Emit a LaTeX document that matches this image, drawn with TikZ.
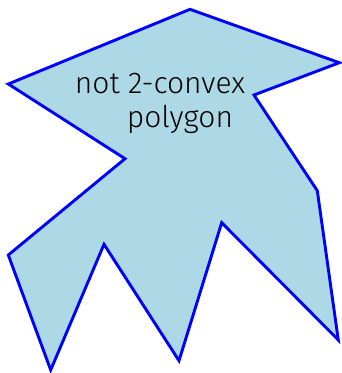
\documentclass[tikz,border=0pt]{standalone}
\usepackage{fontspec}
\setmainfont{Fira Sans Light}
\definecolor{polyfill}{RGB}{173,216,230}
\begin{document}
\begin{tikzpicture}[x=1pt,y=-1pt,
  poly/.style={draw=blue,fill=polyfill,line width=2.9pt,line join=miter},
  lbl/.style={inner sep=0pt,anchor=base,font=\fontsize{30}{36}\selectfont}]
\useasboundingbox (0,0) rectangle (342,373);
\coordinate (p1) at (190,9.3);
\coordinate (p2) at (339.3,62.7);
\coordinate (p3) at (254,95);
\coordinate (p4) at (317.3,190.7);
\coordinate (p5) at (338.3,340);
\coordinate (p6) at (221.7,222.7);
\coordinate (p7) at (179,360.7);
\coordinate (p8) at (104,244.3);
\coordinate (p9) at (50.7,370);
\coordinate (p10) at (8.3,255);
\coordinate (p11) at (125,158.7);
\coordinate (p12) at (8.3,84);
\draw[poly] (p1)--(p2)--(p3)--(p4)--(p5)--(p6)--(p7)--(p8)--(p9)--(p10)--(p11)--(p12)--cycle;
\node[lbl] (t1) at (160,93) {not 2-convex};
\node[lbl] (t2) at (180,127) {polygon};
\end{tikzpicture}
\end{document}
